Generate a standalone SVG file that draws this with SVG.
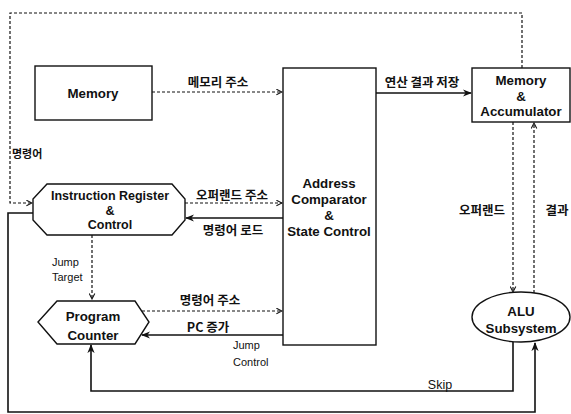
<svg xmlns="http://www.w3.org/2000/svg" width="571" height="414" viewBox="0 0 571 414">
<style>
.node{fill:#fff;stroke:#111;stroke-width:1.4}
.t{font-family:"Liberation Sans",Arial,sans-serif;font-weight:bold;font-size:13.3px;fill:#111;text-anchor:middle}
.k{font-family:"Noto Sans CJK KR",sans-serif;font-weight:bold;font-size:12.5px;fill:#111;text-anchor:middle}
.s{font-family:"Liberation Sans",Arial,sans-serif;font-size:11px;fill:#111}
.d{fill:none;stroke:#111;stroke-width:1.2;stroke-dasharray:3,2}
.l{fill:none;stroke:#111;stroke-width:1.6}
</style>
<defs>
<marker id="ao" viewBox="0 0 10 10" refX="9" refY="5" markerWidth="7" markerHeight="7" orient="auto" markerUnits="userSpaceOnUse">
<path d="M1,1 L9,5 L1,9" fill="none" stroke="#111" stroke-width="1.5"/>
</marker>
<marker id="af" viewBox="0 0 10 10" refX="9" refY="5" markerWidth="9" markerHeight="9" orient="auto" markerUnits="userSpaceOnUse">
<path d="M0,1 L10,5 L0,9 L3,5 Z" fill="#111"/>
</marker>
</defs>
<g id="connectors">
<path class="d" d="M522,68 V13 H10 V203 H32" marker-end="url(#ao)"/>
<path class="d" d="M152,92 H282" marker-end="url(#ao)"/>
<path class="l" d="M376,93 H471" marker-end="url(#af)"/>
<path class="d" d="M185,203 H282" marker-end="url(#ao)"/>
<path class="l" d="M283,218 H186" marker-end="url(#af)"/>
<path class="d" d="M92,235 V299" marker-end="url(#ao)"/>
<path class="d" d="M137,311 H282" marker-end="url(#ao)"/>
<path class="l" d="M283,335 H142" marker-end="url(#af)"/>
<path class="d" d="M513,122 V292" marker-end="url(#ao)"/>
<path class="d" d="M534,293 V123" marker-end="url(#ao)"/>
<path class="l" d="M513,342 V391 H91 V345" marker-end="url(#af)"/>
<path class="l" d="M34,213 H8 V412 H535 V343" marker-end="url(#af)"/>
<text class="k" x="218" y="87">메모리 주소</text>
<text class="k" x="422" y="87">연산 결과 저장</text>
<text class="k" x="232" y="200">오퍼랜드 주소</text>
<text class="k" x="233" y="235">명령어 로드</text>
<text class="k" x="210" y="305">명령어 주소</text>
<text class="k" x="208" y="332">PC 증가</text>
<text class="k" x="482" y="215">오퍼랜드</text>
<text class="k" x="557" y="215">결과</text>
<text class="k" x="12" y="158" style="text-anchor:start;font-size:11px">명령어</text>
<text class="s" x="52" y="266">Jump</text>
<text class="s" x="52" y="281">Target</text>
<text class="s" x="233" y="349">Jump</text>
<text class="s" x="233" y="366">Control</text>
<text class="s" x="440" y="389" text-anchor="middle" style="font-size:12.5px">Skip</text>
</g>
<g id="memory">
<rect class="node" x="35" y="66" width="117" height="54"/>
<text class="t" x="93" y="98">Memory</text>
</g>
<g id="address-comparator">
<rect class="node" x="283" y="68" width="93" height="277"/>
<text class="t" x="329" y="188">Address</text>
<text class="t" x="329" y="204">Comparator</text>
<text class="t" x="329" y="220">&amp;</text>
<text class="t" x="329" y="236">State Control</text>
</g>
<g id="memory-accumulator">
<rect class="node" x="472" y="68" width="98" height="54"/>
<text class="t" x="521" y="85">Memory</text>
<text class="t" x="521" y="100.5">&amp;</text>
<text class="t" x="521" y="116">Accumulator</text>
</g>
<g id="instruction-register">
<polygon class="node" points="47,184 172,184 185,199 185,220 172,235 47,235 33,220 33,199"/>
<text class="t" x="110" y="200" style="font-size:12.5px">Instruction Register</text>
<text class="t" x="110" y="214.5" style="font-size:12.5px">&amp;</text>
<text class="t" x="110" y="229" style="font-size:12.5px">Control</text>
</g>
<g id="program-counter">
<polygon class="node" points="38,322 57,301 135,301 149,322 135,344 57,344"/>
<text class="t" x="93" y="321">Program</text>
<text class="t" x="93" y="340">Counter</text>
</g>
<g id="alu">
<ellipse class="node" cx="521" cy="317" rx="49" ry="25"/>
<text class="t" x="521" y="316">ALU</text>
<text class="t" x="521" y="333">Subsystem</text>
</g>
</svg>
